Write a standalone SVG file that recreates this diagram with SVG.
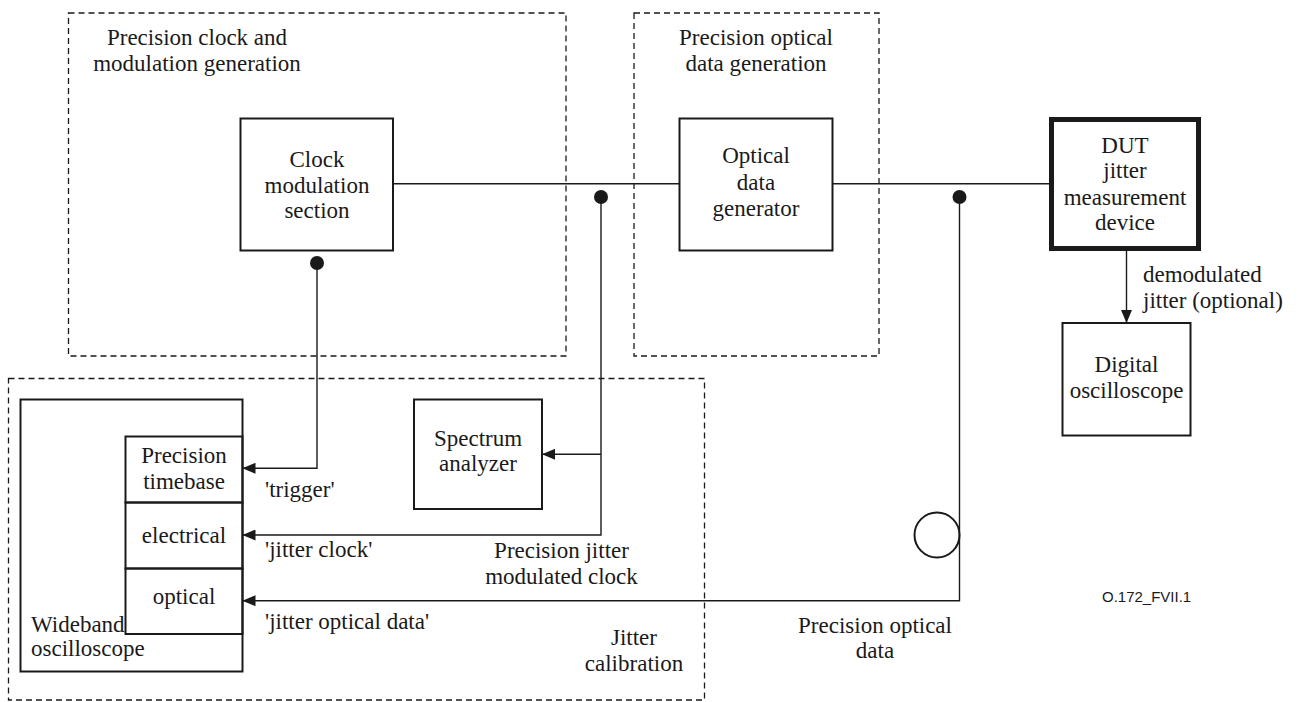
<svg xmlns="http://www.w3.org/2000/svg" width="1300" height="702" viewBox="0 0 1300 702">
<style>
.t{font-family:"Liberation Serif","Times New Roman",serif;font-size:23px;fill:#1a1a1a}
.m{text-anchor:middle}
.box{fill:none;stroke:#1a1a1a;stroke-width:2}
.dash{fill:none;stroke:#1a1a1a;stroke-width:1.3;stroke-dasharray:6 4}
.c{fill:none;stroke:#1a1a1a;stroke-width:1.4}
.dot{fill:#1a1a1a}
.id{font-family:"Liberation Sans",Arial,sans-serif;font-size:15px;fill:#1a1a1a}
</style>
<defs>
<marker id="arr" markerUnits="userSpaceOnUse" markerWidth="13" markerHeight="11" refX="13" refY="5.5" orient="auto">
<path d="M0,0 L13,5.5 L0,11 z" fill="#1a1a1a"/>
</marker>
</defs>
<rect width="1300" height="702" fill="#fff"/>

<g id="group-clock-gen">
<rect class="dash" x="68.5" y="13" width="497.5" height="343"/>
<text class="t m" x="197" y="45">Precision clock and</text>
<text class="t m" x="197" y="71">modulation generation</text>
</g>
<g id="group-optical-gen">
<rect class="dash" x="634" y="13" width="245" height="343"/>
<text class="t m" x="756" y="45">Precision optical</text>
<text class="t m" x="756" y="71">data generation</text>
</g>
<g id="group-jitter-cal">
<rect class="dash" x="8.5" y="378.5" width="696" height="321.5"/>
<text class="t m" x="634" y="645">Jitter</text>
<text class="t m" x="634" y="671">calibration</text>
</g>

<g id="node-clock-mod">
<rect class="box" x="240.5" y="118.5" width="152.5" height="132"/>
<text class="t m" x="317" y="167">Clock</text>
<text class="t m" x="317" y="193">modulation</text>
<text class="t m" x="317" y="218">section</text>
</g>
<g id="node-optical-gen">
<rect class="box" x="679.5" y="118.5" width="153" height="132"/>
<text class="t m" x="756" y="163">Optical</text>
<text class="t m" x="756" y="190">data</text>
<text class="t m" x="756" y="216">generator</text>
</g>
<g id="node-dut">
<rect fill="none" stroke="#1a1a1a" stroke-width="5" x="1051.5" y="119.5" width="147" height="129"/>
<text class="t m" x="1125" y="153">DUT</text>
<text class="t m" x="1125" y="178">jitter</text>
<text class="t m" x="1125" y="205">measurement</text>
<text class="t m" x="1125" y="230">device</text>
</g>
<g id="node-digital-osc">
<rect class="box" x="1062.5" y="323" width="128" height="112.5"/>
<text class="t m" x="1126.5" y="372">Digital</text>
<text class="t m" x="1126.5" y="398">oscilloscope</text>
</g>
<g id="node-wideband-osc">
<rect class="box" x="20.5" y="399.5" width="222" height="272"/>
<text class="t" x="31" y="632">Wideband</text>
<text class="t" x="31" y="656">oscilloscope</text>
</g>
<g id="node-timebase">
<rect class="box" x="125.5" y="436.5" width="117" height="66"/>
<text class="t m" x="184" y="463">Precision</text>
<text class="t m" x="184" y="489">timebase</text>
</g>
<g id="node-electrical">
<rect class="box" x="125.5" y="502.5" width="117" height="66"/>
<text class="t m" x="184" y="543">electrical</text>
</g>
<g id="node-optical">
<rect class="box" x="125.5" y="568.5" width="117" height="65.5"/>
<text class="t m" x="184" y="604">optical</text>
</g>
<g id="node-spectrum">
<rect class="box" x="414" y="399.5" width="128" height="109.5"/>
<text class="t m" x="478" y="446">Spectrum</text>
<text class="t m" x="478" y="471">analyzer</text>
</g>

<g id="connectors">
<line class="c" x1="393" y1="183.7" x2="679.5" y2="183.7"/>
<line class="c" x1="832.5" y1="183.7" x2="1049" y2="183.7"/>
<circle class="dot" cx="601" cy="197" r="7"/>
<polyline class="c" points="601,197 601,535 242.5,535" marker-end="url(#arr)"/>
<polyline class="c" points="601,454.3 542,454.3" marker-end="url(#arr)"/>
<circle class="dot" cx="317" cy="263" r="7"/>
<polyline class="c" points="317,263 317,468.3 242.5,468.3" marker-end="url(#arr)"/>
<circle class="dot" cx="959.5" cy="197" r="7"/>
<polyline class="c" points="959.5,197 959.5,600.7 242.5,600.7" marker-end="url(#arr)"/>
<circle cx="937" cy="535" r="22.5" fill="none" stroke="#1a1a1a" stroke-width="2"/>
<line class="c" x1="1126.5" y1="251" x2="1126.5" y2="323" marker-end="url(#arr)"/>
<text class="t" x="265" y="497">'trigger'</text>
<text class="t" x="265" y="557">'jitter clock'</text>
<text class="t" x="265" y="629">'jitter optical data'</text>
<text class="t m" x="561.5" y="558">Precision jitter</text>
<text class="t m" x="561.5" y="584">modulated clock</text>
<text class="t m" x="875" y="633">Precision optical</text>
<text class="t m" x="875" y="658">data</text>
<text class="t" x="1143" y="282">demodulated</text>
<text class="t" x="1143" y="308">jitter (optional)</text>
</g>
<text class="id" x="1102" y="602">O.172_FVII.1</text>
</svg>
